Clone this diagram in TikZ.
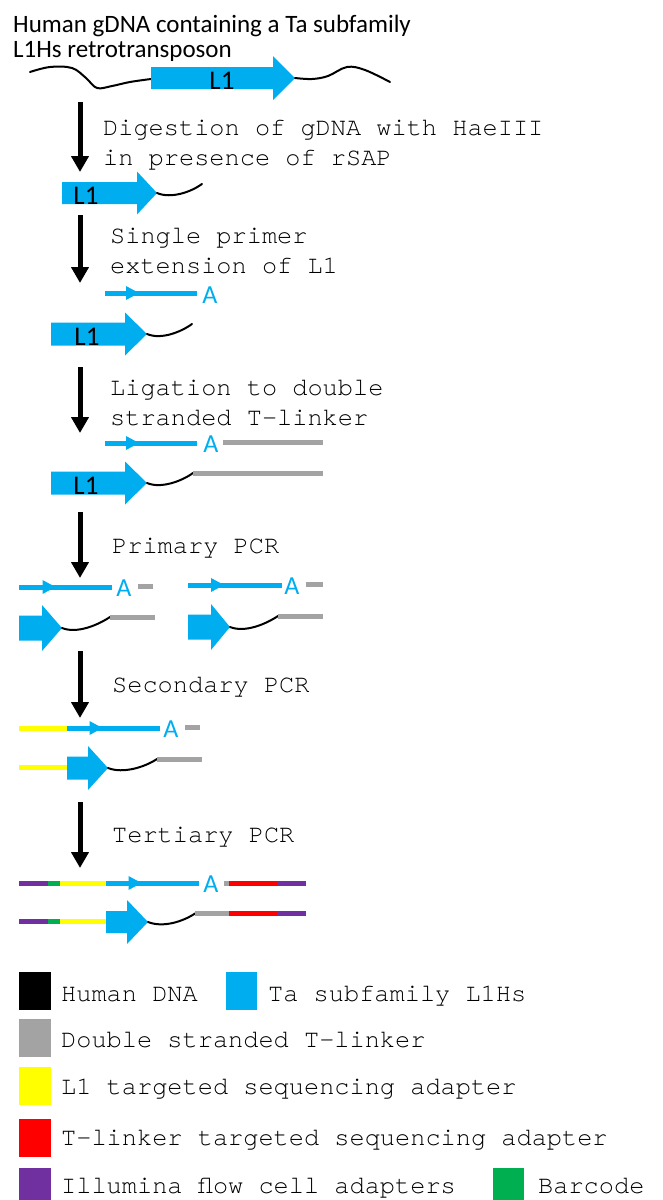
\documentclass[tikz,border=0pt]{standalone}
\usepackage{fontspec}
\setmainfont{Carlito}
\newfontfamily\monofont{TeX Gyre Cursor}
\usetikzlibrary{arrows.meta}

\definecolor{lblue}{HTML}{00AEEF}
\definecolor{tlgray}{HTML}{A3A3A3}
\definecolor{adyellow}{HTML}{FFFF00}
\definecolor{adred}{HTML}{FF0000}
\definecolor{flpurple}{HTML}{7030A0}
\definecolor{bcgreen}{HTML}{00B050}

\tikzset{
  dna/.style={black, line width=2pt, line cap=round},
  strand/.style={line width=5pt},
  stagearrow/.style={black, line width=5pt, -{Triangle[width=17pt,length=16pt]}},
  caption/.style={font=\monofont\fontsize{25.3}{30}\selectfont, anchor=base west, inner sep=0pt},
  heading/.style={font=\fontsize{25}{26}\selectfont, anchor=base west, inner sep=0pt},
  lonelabel/.style={font=\fontsize{27}{27}\selectfont, anchor=base, inner sep=0pt},
  tailA/.style={font=\fontsize{26}{26}\selectfont, text=lblue, anchor=base, inner sep=0pt},
  swatch/.style={minimum width=32pt, minimum height=38pt, inner sep=0pt, anchor=north west, draw=none},
}

% block arrow: name, x start, head base x, tip x, centre y, body half height, head half height
\newcommand{\blockarr}[7]{%
  \fill[lblue] (#2,#5-#6) -- (#3,#5-#6) -- (#3,#5-#7) -- (#4,#5)
    -- (#3,#5+#7) -- (#3,#5+#6) -- (#2,#5+#6) -- cycle;
  \coordinate (#1) at (#4,#5);}
% small arrowhead on a primer strand, centred at x, y
\newcommand{\primertip}[2]{%
  \fill[lblue] (#1-6.5,#2-7) -- (#1+6.5,#2) -- (#1-6.5,#2+7) -- cycle;}

\begin{document}
\begin{tikzpicture}[x=1pt,y=-1pt]
\useasboundingbox (0,0) rectangle (662,1200);

% ---- heading
\node[heading] (t1) at (13,32) {Human gDNA containing a Ta subfamily};
\node[heading] (t2) at (13,57) {L1Hs retrotransposon};

% ---- genomic DNA with the L1 element
\draw[dna] plot[smooth, tension=0.6] coordinates
  {(30,72) (50,67) (72,68) (86,78) (97,88) (112,86) (130,82) (151,79)};
\blockarr{g0}{151}{273}{295}{78}{11}{22}
\draw[dna] plot[smooth, tension=0.6] coordinates
  {(295,78) (312,79) (328,76) (347,67) (365,70) (390,82)};
\node[lonelabel] (l0) at (222,89) {L1};

% ---- step 1
\coordinate (a1s) at (80,102);
\coordinate (a1e) at (80,172);
\draw[stagearrow] (a1s) -- (a1e);
\node[caption] (c1a) at (103,135) {Digestion of gDNA with HaeIII};
\node[caption] (c1b) at (103,165) {in presence of rSAP};

\blockarr{g1}{62}{137}{157}{193}{11}{21.5}
\node[lonelabel] (l1) at (86,204) {L1};
\coordinate (g1e) at (202,184);
\draw[dna] (g1) .. controls +(14,6) and +(-11,8) .. (g1e);

% ---- step 2
\coordinate (a2s) at (80,215);
\coordinate (a2e) at (80,283);
\draw[stagearrow] (a2s) -- (a2e);
\node[caption] (c2a) at (110,243) {Single primer};
\node[caption] (c2b) at (110,273) {extension of L1};

\coordinate (p2s) at (105,293);
\coordinate (p2e) at (197,293);
\draw[strand, lblue] (p2s) -- (p2e);
\primertip{132.5}{293}
\node[tailA] (A2) at (210,303) {A};

\blockarr{g2}{51}{125}{147}{334}{11.5}{21.5}
\node[lonelabel] (l2) at (87,345) {L1};
\coordinate (g2e) at (192,324);
\draw[dna] (g2) .. controls +(14,6) and +(-11,8) .. (g2e);

% ---- step 3
\coordinate (a3s) at (80,367);
\coordinate (a3e) at (80,433);
\draw[stagearrow] (a3s) -- (a3e);
\node[caption] (c3a) at (110,395) {Ligation to double};
\node[caption] (c3b) at (110,425) {stranded T-linker};

\coordinate (p3s) at (105,443);
\coordinate (p3e) at (197,443);
\draw[strand, lblue] (p3s) -- (p3e);
\primertip{132.5}{443}
\node[tailA] (A3) at (211,452) {A};
\coordinate (k3s) at (223,442);
\coordinate (k3e) at (323,442);
\draw[strand, tlgray] (k3s) -- (k3e);

\blockarr{g3}{51}{125}{147}{483}{11.5}{21.5}
\node[lonelabel] (l3) at (86,494) {L1};
\coordinate (g3e) at (193,473);
\coordinate (k3f) at (323,473);
\draw[dna] (g3) .. controls +(14,6) and +(-11,8) .. (g3e);
\draw[strand, tlgray] (g3e) -- (k3f);

% ---- step 4
\coordinate (a4s) at (80,512);
\coordinate (a4e) at (80,578);
\draw[stagearrow] (a4s) -- (a4e);
\node[caption] (c4) at (112,553) {Primary PCR};

% left product
\coordinate (p4s) at (19,587);
\coordinate (p4e) at (112,587);
\draw[strand, lblue] (p4s) -- (p4e);
\primertip{49}{587}
\node[tailA] (A4) at (124,596) {A};
\coordinate (k4s) at (138,586);
\coordinate (k4e) at (153,586);
\draw[strand, tlgray] (k4s) -- (k4e);
\blockarr{g4}{19}{42}{62}{628}{12.5}{23}
\coordinate (g4e) at (110,617);
\coordinate (k4f) at (155,617);
\draw[dna] (g4) .. controls +(15,6) and +(-12,8) .. (g4e);
\draw[strand, tlgray] (g4e) -- (k4f);

% right product
\coordinate (q4s) at (188,585);
\coordinate (q4e) at (282,585);
\draw[strand, lblue] (q4s) -- (q4e);
\primertip{217.5}{585}
\node[tailA] (B4) at (292,594) {A};
\coordinate (m4s) at (306,584);
\coordinate (m4e) at (323,584);
\draw[strand, tlgray] (m4s) -- (m4e);
\blockarr{h4}{188}{211}{230}{627}{12.5}{23}
\coordinate (h4e) at (278,616);
\coordinate (m4f) at (323,616);
\draw[dna] (h4) .. controls +(15,6) and +(-12,8) .. (h4e);
\draw[strand, tlgray] (h4e) -- (m4f);

% ---- step 5
\coordinate (a5s) at (80,651);
\coordinate (a5e) at (80,718);
\draw[stagearrow] (a5s) -- (a5e);
\node[caption] (c5) at (112,692) {Secondary PCR};

\coordinate (y5s) at (19,728);
\coordinate (y5e) at (67,728);
\coordinate (p5e) at (160,728);
\draw[strand, adyellow] (y5s) -- (y5e);
\draw[strand, lblue] (y5e) -- (p5e);
\primertip{96}{728}
\node[tailA] (A5) at (171,737) {A};
\coordinate (k5s) at (185,727);
\coordinate (k5e) at (200,727);
\draw[strand, tlgray] (k5s) -- (k5e);

\coordinate (y5t) at (19,767);
\coordinate (y5u) at (67,767);
\draw[strand, adyellow] (y5t) -- (y5u);
\blockarr{g5}{67}{88}{108}{768}{11.5}{22}
\coordinate (g5e) at (157,759);
\coordinate (k5f) at (202,759);
\draw[dna] (g5) .. controls +(15,6) and +(-12,8) .. (g5e);
\draw[strand, tlgray] (g5e) -- (k5f);

% ---- step 6
\coordinate (a6s) at (80,802);
\coordinate (a6e) at (80,868);
\draw[stagearrow] (a6s) -- (a6e);
\node[caption] (c6) at (112,842) {Tertiary PCR};

\coordinate (f6a) at (19,883);
\coordinate (f6b) at (48,883);
\coordinate (f6c) at (60,883);
\coordinate (f6d) at (106,883);
\coordinate (f6e) at (199,883);
\draw[strand, flpurple] (f6a) -- (f6b);
\draw[strand, bcgreen] (f6b) -- (f6c);
\draw[strand, adyellow] (f6c) -- (f6d);
\draw[strand, lblue] (f6d) -- (f6e);
\primertip{135}{883}
\node[tailA] (A6) at (211,892) {A};
\coordinate (r6a) at (224,883);
\coordinate (r6b) at (229,883);
\coordinate (r6c) at (277,883);
\coordinate (r6d) at (306,883);
\draw[strand, tlgray] (r6a) -- (r6b);
\draw[strand, adred] (r6b) -- (r6c);
\draw[strand, flpurple] (r6c) -- (r6d);

\coordinate (f7a) at (19,921);
\coordinate (f7b) at (48,921);
\coordinate (f7c) at (60,921);
\coordinate (f7d) at (106,921);
\draw[strand, flpurple] (f7a) -- (f7b);
\draw[strand, bcgreen] (f7b) -- (f7c);
\draw[strand, adyellow] (f7c) -- (f7d);
\blockarr{g6}{106}{127}{148}{922}{11}{22}
\coordinate (g6e) at (195,913.5);
\coordinate (r7b) at (229,913.5);
\coordinate (r7c) at (277,913.5);
\coordinate (r7d) at (306,913.5);
\draw[dna] (g6) .. controls +(15,6) and +(-12,8) .. (g6e);
\draw[strand, tlgray] (g6e) -- (r7b);
\draw[strand, adred] (r7b) -- (r7c);
\draw[strand, flpurple] (r7c) -- (r7d);

% ---- key
\node[swatch, fill=black] (kdna) at (19,972) {};
\node[caption] (tdna) at (61,1001) {Human DNA};
\node[swatch, fill=lblue, minimum width=31pt] (kl1) at (226,972) {};
\node[caption] (tl1) at (268,1001) {Ta subfamily L1Hs};
\node[swatch, fill=tlgray] (klink) at (19,1019) {};
\node[caption] (tlink) at (61,1047) {Double stranded T-linker};
\node[swatch, fill=adyellow] (kyel) at (19,1067) {};
\node[caption] (tyel) at (61,1094) {L1 targeted sequencing adapter};
\node[swatch, fill=adred] (kred) at (19,1119) {};
\node[caption] (tred) at (61,1145) {T-linker targeted sequencing adapter};
\node[swatch, fill=flpurple] (kpur) at (19,1168) {};
\node[caption] (tpur) at (61,1193) {Illumina flow cell adapters};
\node[swatch, fill=bcgreen, minimum width=31pt] (kbar) at (493,1168) {};
\node[caption] (tbar) at (538,1193) {Barcode};
\end{tikzpicture}
\end{document}
